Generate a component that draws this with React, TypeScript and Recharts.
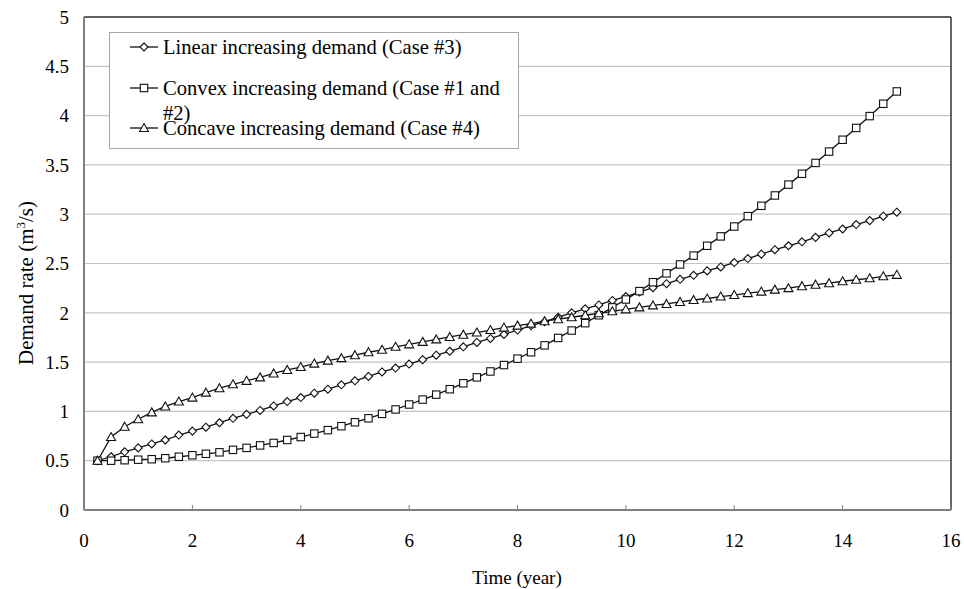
import React from 'react';
import { LineChart, Line, XAxis, YAxis, CartesianGrid, Legend, ReferenceLine } from 'recharts';

const timeYears = [
  0.25, 0.5, 0.75, 1, 1.25, 1.5, 1.75, 2, 2.25, 2.5,
  2.75, 3, 3.25, 3.5, 3.75, 4, 4.25, 4.5, 4.75, 5,
  5.25, 5.5, 5.75, 6, 6.25, 6.5, 6.75, 7, 7.25, 7.5,
  7.75, 8, 8.25, 8.5, 8.75, 9, 9.25, 9.5, 9.75, 10,
  10.25, 10.5, 10.75, 11, 11.25, 11.5, 11.75, 12, 12.25, 12.5,
  12.75, 13, 13.25, 13.5, 13.75, 14, 14.25, 14.5, 14.75, 15,
];

const linearDemand = [
  0.5, 0.54, 0.59, 0.63, 0.67, 0.71, 0.76, 0.8, 0.84, 0.885,
  0.93, 0.97, 1.01, 1.055, 1.1, 1.14, 1.185, 1.225, 1.27, 1.31,
  1.355, 1.4, 1.44, 1.48, 1.525, 1.57, 1.61, 1.655, 1.7, 1.74,
  1.78, 1.825, 1.87, 1.91, 1.955, 2.0, 2.04, 2.08, 2.125, 2.165,
  2.21, 2.255, 2.295, 2.34, 2.38, 2.425, 2.465, 2.51, 2.55, 2.595,
  2.64, 2.68, 2.72, 2.765, 2.81, 2.85, 2.895, 2.935, 2.98, 3.02,
];

const convexDemand = [
  0.5, 0.5, 0.505, 0.51, 0.515, 0.525, 0.54, 0.555, 0.57, 0.585,
  0.61, 0.63, 0.655, 0.68, 0.71, 0.74, 0.775, 0.81, 0.85, 0.89,
  0.93, 0.975, 1.02, 1.07, 1.12, 1.17, 1.225, 1.285, 1.345, 1.405,
  1.47, 1.535, 1.6, 1.67, 1.745, 1.82, 1.895, 1.975, 2.055, 2.135,
  2.22, 2.31, 2.4, 2.49, 2.58, 2.68, 2.775, 2.875, 2.98, 3.085,
  3.19, 3.3, 3.41, 3.52, 3.635, 3.755, 3.875, 3.995, 4.12, 4.245,
];

const concaveDemand = [
  0.5, 0.74, 0.845, 0.92, 0.99, 1.05, 1.1, 1.14, 1.19, 1.235,
  1.275, 1.31, 1.345, 1.385, 1.42, 1.45, 1.485, 1.515, 1.54, 1.57,
  1.6, 1.625, 1.655, 1.68, 1.705, 1.73, 1.755, 1.778, 1.8, 1.825,
  1.85, 1.87, 1.89, 1.915, 1.935, 1.955, 1.975, 1.995, 2.015, 2.035,
  2.055, 2.075, 2.09, 2.11, 2.13, 2.145, 2.165, 2.18, 2.2, 2.215,
  2.235, 2.25, 2.27, 2.285, 2.3, 2.32, 2.335, 2.35, 2.37, 2.385,
];

const xTicks = [0, 2, 4, 6, 8, 10, 12, 14, 16];
const yTicks = [0, 0.5, 1, 1.5, 2, 2.5, 3, 3.5, 4, 4.5, 5];

const seriesNames = {
  linear: 'Linear increasing demand (Case #3)',
  convexLine1: 'Convex increasing demand (Case #1 and',
  convexLine2: '#2)',
  concave: 'Concave increasing demand (Case #4)',
};

const data = timeYears.map((t, i) => ({
  t,
  linear: linearDemand[i],
  convex: convexDemand[i],
  concave: concaveDemand[i],
}));

const FONT = '"Liberation Serif", "Times New Roman", serif';
const INK = '#111';
const AXIS_FS = 19;

const Diamond = ({ cx, cy }: { cx: number; cy: number }) => (
  <path d={`M${cx},${cy - 4}L${cx + 4},${cy}L${cx},${cy + 4}L${cx - 4},${cy}Z`} fill="#fff" stroke={INK} strokeWidth={1.1} />
);
const Square = ({ cx, cy }: { cx: number; cy: number }) => (
  <rect x={cx - 3.7} y={cy - 3.7} width={7.4} height={7.4} fill="#fff" stroke={INK} strokeWidth={1.1} />
);
const Triangle = ({ cx, cy }: { cx: number; cy: number }) => (
  <path d={`M${cx},${cy - 4.5}L${cx + 4.5},${cy + 3.5}L${cx - 4.5},${cy + 3.5}Z`} fill="#fff" stroke={INK} strokeWidth={1.1} />
);

const dotOf = (Shape: any) => (props: any) => {
  const { cx, cy, index } = props;
  if (cx == null || cy == null) return <g key={`n${index}`} />;
  return <Shape key={`d${index}`} cx={cx} cy={cy} />;
};

const XTick = (props: any) => {
  const { x, y, payload } = props;
  return (
    <g>
      <line x1={x} x2={x} y1={y} y2={y - 5} stroke="#808080" strokeWidth={1} />
      <text x={x} y={y + 37} textAnchor="middle" fill="#000" fontSize={AXIS_FS} fontFamily={FONT}>
        {payload.value}
      </text>
    </g>
  );
};

const YTitle = () => (
  <text transform="translate(33,283) rotate(-90)" textAnchor="middle" fill="#000" fontSize={21} fontFamily={FONT}>
    <tspan>Demand rate (m</tspan>
    <tspan dy={-8} fontSize={13}>3</tspan>
    <tspan dy={8}>/s)</tspan>
  </text>
);

const XTitle = () => (
  <text x={517} y={584} textAnchor="middle" fill="#000" fontSize={AXIS_FS} fontFamily={FONT}>
    Time (year)
  </text>
);

const LegendIcon = ({ Shape }: { Shape: any }) => (
  <svg width={30} height={12} style={{ position: 'absolute', left: 19, top: -6 }}>
    <line x1={1} x2={29} y1={6} y2={6} stroke={INK} strokeWidth={1.3} />
    <Shape cx={15} cy={6} />
  </svg>
);

const renderLegend = () => {
  const textStyle: React.CSSProperties = {
    position: 'absolute',
    left: 53,
    fontFamily: FONT,
    fontSize: 20.6,
    lineHeight: '25px',
    color: '#000',
    whiteSpace: 'nowrap',
  };
  return (
    <div
      style={{
        position: 'relative',
        width: 410,
        height: 117,
        border: '1px solid #a8a8a8',
        background: '#fff',
        boxSizing: 'border-box',
      }}
    >
      <div style={{ position: 'absolute', left: 0, top: 14 }}>
        <LegendIcon Shape={Diamond} />
      </div>
      <div style={{ ...textStyle, top: 2 }}>{seriesNames.linear}</div>
      <div style={{ position: 'absolute', left: 0, top: 55 }}>
        <LegendIcon Shape={Square} />
      </div>
      <div style={{ ...textStyle, top: 43 }}>
        {seriesNames.convexLine1}
        <br />
        {seriesNames.convexLine2}
      </div>
      <div style={{ position: 'absolute', left: 0, top: 95 }}>
        <LegendIcon Shape={Triangle} />
      </div>
      <div style={{ ...textStyle, top: 83 }}>{seriesNames.concave}</div>
    </div>
  );
};

export default function App() {
  return (
    <div style={{ width: 964, height: 589, background: '#fff' }}>
      <style>{'body{margin:0;background:#fff;}'}</style>
      <LineChart width={964} height={589} data={data} margin={{ top: 17, right: 13, left: 0, bottom: 0 }}>
        <CartesianGrid horizontal vertical={false} stroke="#c4c4c4" strokeWidth={1.2} />
        <XAxis
          dataKey="t"
          type="number"
          domain={[0, 16]}
          ticks={xTicks}
          height={79}
          tickLine={false}
          tickSize={0}
          tickMargin={0}
          axisLine={{ stroke: '#808080', strokeWidth: 2 }}
          tick={<XTick />}
          label={{ content: () => <XTitle /> }}
          interval={0}
        />
        <YAxis
          type="number"
          domain={[0, 5]}
          ticks={yTicks}
          width={84}
          tickLine={false}
          tickSize={0}
          tickMargin={15}
          axisLine={{ stroke: '#808080', strokeWidth: 2 }}
          tick={{ fill: '#000', fontSize: AXIS_FS, fontFamily: FONT }}
          label={{ content: () => <YTitle /> }}
          interval={0}
        />
        <ReferenceLine y={5} stroke="#333" strokeWidth={1.5} />
        <ReferenceLine x={16} stroke="#333" strokeWidth={1.5} />
        <Line dataKey="linear" name={seriesNames.linear} stroke={INK} strokeWidth={1.3} dot={dotOf(Diamond)} isAnimationActive={false} />
        <Line dataKey="convex" name="Convex increasing demand (Case #1 and #2)" stroke={INK} strokeWidth={1.3} dot={dotOf(Square)} isAnimationActive={false} />
        <Line dataKey="concave" name={seriesNames.concave} stroke={INK} strokeWidth={1.3} dot={dotOf(Triangle)} isAnimationActive={false} />
        <Legend
          layout="horizontal"
          verticalAlign="middle"
          align="center"
          content={renderLegend}
          wrapperStyle={{ left: 109, top: 32, width: 410, height: 117 }}
        />
      </LineChart>
    </div>
  );
}
